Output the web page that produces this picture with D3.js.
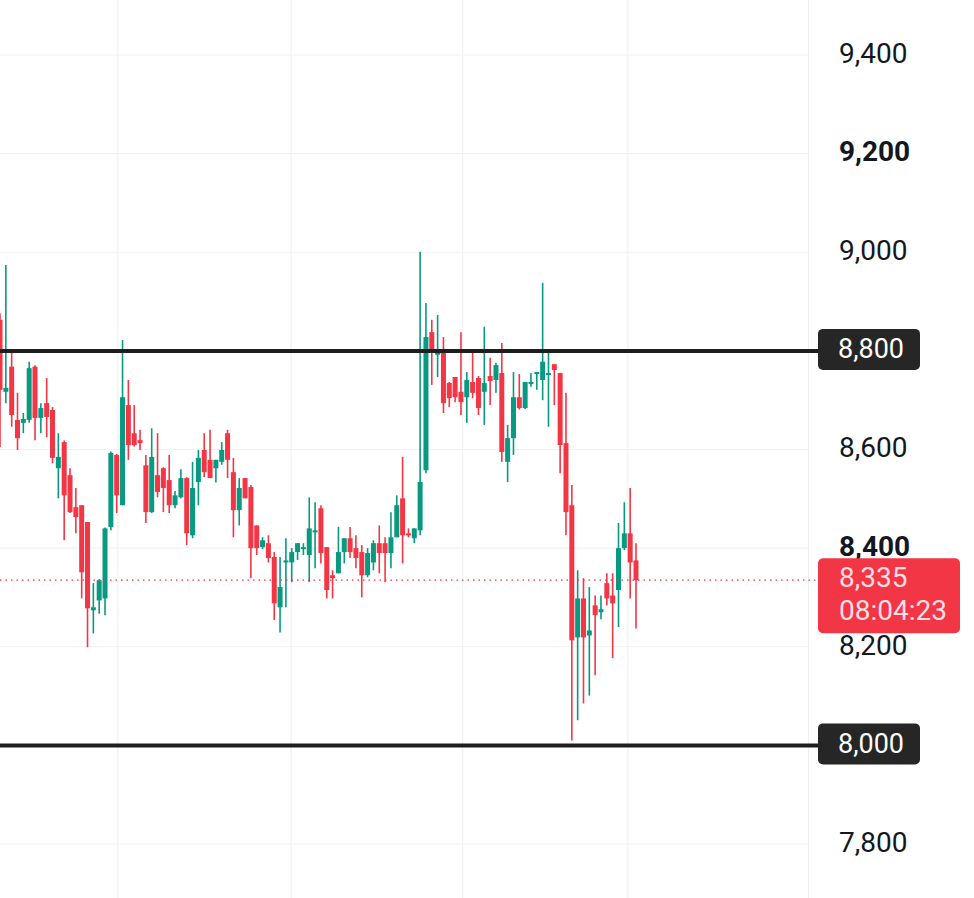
<!DOCTYPE html>
<html>
<head>
<meta charset="utf-8">
<script src="https://cdn.jsdelivr.net/npm/d3@7"></script>
<style>
  body { margin: 0; background: #ffffff; }
  svg { display: block; font-family: Roboto, "Noto Sans", sans-serif; }
</style>
</head>
<body>
<svg id="chart"></svg>
<script>
// candle values, left to right
const opens = [8863, 8717, 8768, 8660, 8654, 8660, 8768, 8664, 8694, 8680,
  8562, 8615, 8548, 8483, 8487, 8453, 8274, 8294, 8298, 8443,
  8589, 8487, 8690, 8633, 8619, 8568, 8473, 8548, 8562, 8538,
  8487, 8503, 8542, 8426, 8534, 8599, 8579, 8562, 8575, 8633,
  8554, 8477, 8542, 8524, 8446, 8402, 8410, 8382, 8280, 8371,
  8371, 8392, 8398, 8386, 8432, 8481, 8402, 8345, 8349, 8392,
  8420, 8400, 8392, 8345, 8371, 8410, 8410, 8390, 8422, 8501,
  8430, 8420, 8436, 8558, 8838, 8792, 8796, 8735, 8747, 8717,
  8706, 8737, 8745, 8717, 8749, 8741, 8755, 8575, 8623, 8706,
  8684, 8733, 8753, 8741, 8751, 8773, 8755, 8613, 8487, 8219,
  8298, 8223, 8284, 8270, 8329, 8304, 8315, 8400, 8430, 8375];
const highs = [8876, 8974, 8802, 8715, 8674, 8778, 8771, 8694, 8745, 8686,
  8633, 8618, 8562, 8522, 8487, 8453, 8329, 8337, 8442, 8596,
  8591, 8822, 8741, 8690, 8640, 8589, 8643, 8633, 8564, 8589,
  8516, 8560, 8544, 8575, 8599, 8633, 8640, 8579, 8615, 8640,
  8583, 8542, 8542, 8528, 8446, 8422, 8426, 8392, 8382, 8420,
  8400, 8410, 8410, 8503, 8493, 8487, 8402, 8355, 8443, 8420,
  8443, 8426, 8406, 8400, 8416, 8446, 8422, 8473, 8507, 8585,
  8440, 8440, 9001, 8897, 8863, 8873, 8828, 8737, 8747, 8838,
  8757, 8798, 8749, 8849, 8786, 8776, 8816, 8650, 8757, 8753,
  8737, 8755, 8757, 8938, 8798, 8773, 8755, 8715, 8528, 8355,
  8339, 8321, 8304, 8304, 8349, 8349, 8451, 8493, 8522, 8410];
const lows = [8605, 8694, 8646, 8599, 8633, 8654, 8619, 8633, 8625, 8572,
  8501, 8416, 8471, 8430, 8298, 8199, 8227, 8267, 8264, 8436,
  8471, 8487, 8579, 8606, 8599, 8451, 8471, 8503, 8473, 8471,
  8481, 8501, 8406, 8420, 8487, 8544, 8542, 8533, 8569, 8542,
  8422, 8446, 8501, 8339, 8386, 8398, 8371, 8254, 8229, 8280,
  8331, 8376, 8386, 8331, 8359, 8369, 8298, 8298, 8349, 8369,
  8380, 8359, 8300, 8341, 8355, 8349, 8331, 8359, 8422, 8369,
  8422, 8410, 8426, 8552, 8731, 8747, 8674, 8686, 8696, 8670,
  8654, 8704, 8670, 8650, 8690, 8715, 8575, 8534, 8589, 8681,
  8682, 8727, 8721, 8700, 8646, 8690, 8552, 8426, 8010, 8051,
  8085, 8101, 8142, 8256, 8284, 8177, 8240, 8396, 8298, 8237];
const closes = [8721, 8725, 8670, 8623, 8662, 8765, 8664, 8684, 8666, 8583,
  8585, 8507, 8473, 8463, 8351, 8278, 8280, 8335, 8440, 8593,
  8507, 8706, 8609, 8609, 8613, 8473, 8585, 8514, 8522, 8487,
  8507, 8542, 8430, 8522, 8583, 8554, 8542, 8579, 8599, 8579,
  8477, 8522, 8501, 8400, 8400, 8416, 8380, 8288, 8321, 8375,
  8392, 8410, 8402, 8440, 8436, 8390, 8315, 8339, 8392, 8420,
  8392, 8380, 8345, 8390, 8410, 8390, 8390, 8422, 8487, 8426,
  8426, 8440, 8534, 8828, 8796, 8798, 8694, 8704, 8706, 8696,
  8741, 8715, 8684, 8735, 8739, 8771, 8595, 8623, 8706, 8684,
  8737, 8737, 8757, 8778, 8755, 8761, 8609, 8473, 8213, 8298,
  8219, 8233, 8264, 8276, 8298, 8288, 8400, 8430, 8371, 8335];

const priceTicks = [7800, 8000, 8200, 8400, 8600, 8800, 9000, 9200, 9400];
const boldTicks = [8400, 9200];
const levels = [8800, 8000];
const timeGrid = [20.2, 49.9, 79.3, 107.6];   // candle index where the time grid falls
const lastPrice = 8335;
const countdown = "08:04:23";

const width = 974;
const height = 898;
const plotRight = 808;

const up = "#089981";
const down = "#f23645";

const svg = d3.select("#chart")
  .attr("width", width)
  .attr("height", height);

const x = d3.scaleLinear().domain([0, opens.length - 1]).range([0, 636]);
const y = d3.scaleLinear().domain([7800, 9400]).range([844, 55]);

const fmt = d3.format(",");

svg.append("defs").append("clipPath").attr("id", "plot")
  .append("rect").attr("x", 0).attr("y", 0).attr("width", plotRight).attr("height", height);

// grid
const grid = svg.append("g");
grid.selectAll(".hgrid")
  .data(priceTicks)
  .enter().append("line")
    .attr("x1", 0).attr("x2", plotRight)
    .attr("y1", d => y(d)).attr("y2", d => y(d))
    .attr("stroke", "#f0f1f4").attr("stroke-width", 1.2);
grid.selectAll(".vgrid")
  .data(timeGrid)
  .enter().append("line")
    .attr("x1", d => x(d)).attr("x2", d => x(d))
    .attr("y1", 0).attr("y2", height)
    .attr("stroke", "#f0f1f4").attr("stroke-width", 1.2);

// axis border
svg.append("line")
  .attr("x1", plotRight + 0.5).attr("x2", plotRight + 0.5)
  .attr("y1", 0).attr("y2", height)
  .attr("stroke", "#eceef2").attr("stroke-width", 1);

const plot = svg.append("g").attr("clip-path", "url(#plot)");

// last price dotted line
svg.append("line")
  .attr("x1", 0).attr("x2", 818)
  .attr("y1", y(lastPrice)).attr("y2", y(lastPrice))
  .attr("stroke", down).attr("stroke-width", 1.2)
  .attr("stroke-dasharray", "1.5,4");

// candles
const idx = d3.range(opens.length);
const colorOf = i => closes[i] >= opens[i] ? up : down;
const bodyW = 5;

plot.selectAll(".wick")
  .data(idx)
  .enter().append("line")
    .attr("x1", i => x(i)).attr("x2", i => x(i))
    .attr("y1", i => y(highs[i])).attr("y2", i => y(lows[i]))
    .attr("stroke", colorOf).attr("stroke-width", 1.6);

plot.selectAll(".body")
  .data(idx)
  .enter().append("rect")
    .attr("x", i => x(i) - bodyW / 2)
    .attr("width", bodyW)
    .attr("y", i => y(Math.max(opens[i], closes[i])))
    .attr("height", i => Math.max(1.5, Math.abs(y(opens[i]) - y(closes[i]))))
    .attr("fill", colorOf);

// horizontal levels
svg.selectAll(".level")
  .data(levels)
  .enter().append("line")
    .attr("x1", 0).attr("x2", 820)
    .attr("y1", d => y(d)).attr("y2", d => y(d))
    .attr("stroke", "#1e1e1e").attr("stroke-width", 4);

// price axis labels (the level tags sit over their own ticks)
svg.selectAll(".tick")
  .data(priceTicks.filter(d => !levels.includes(d)))
  .enter().append("text")
    .attr("x", 839)
    .attr("y", d => y(d))
    .attr("dy", "0.28em")
    .attr("font-size", 28)
    .attr("font-weight", d => boldTicks.includes(d) ? 700 : 400)
    .attr("fill", "#131722")
    .text(d => fmt(d));

// level tags
const tags = svg.selectAll(".tag")
  .data(levels)
  .enter().append("g")
    .attr("transform", d => `translate(818, ${y(d) - 22})`);
tags.append("rect")
  .attr("width", 102).attr("height", 41).attr("rx", 5)
  .attr("fill", "#262626");
tags.append("text")
  .attr("x", 20).attr("y", 20).attr("dy", "0.35em")
  .attr("font-size", 27).attr("fill", "#ffffff")
  .text(d => fmt(d));

// last price tag
const last = svg.append("g")
  .attr("transform", `translate(818, ${y(lastPrice) - 22})`);
last.append("rect")
  .attr("width", 142).attr("height", 75).attr("rx", 5)
  .attr("fill", down);
last.append("text")
  .attr("x", 21).attr("y", 29)
  .attr("font-size", 28).attr("fill", "#ffdfe2")
  .text(fmt(lastPrice));
last.append("text")
  .attr("x", 21).attr("y", 62)
  .attr("font-size", 28).attr("fill", "#ffdfe2")
  .text(countdown);
</script>
</body>
</html>
